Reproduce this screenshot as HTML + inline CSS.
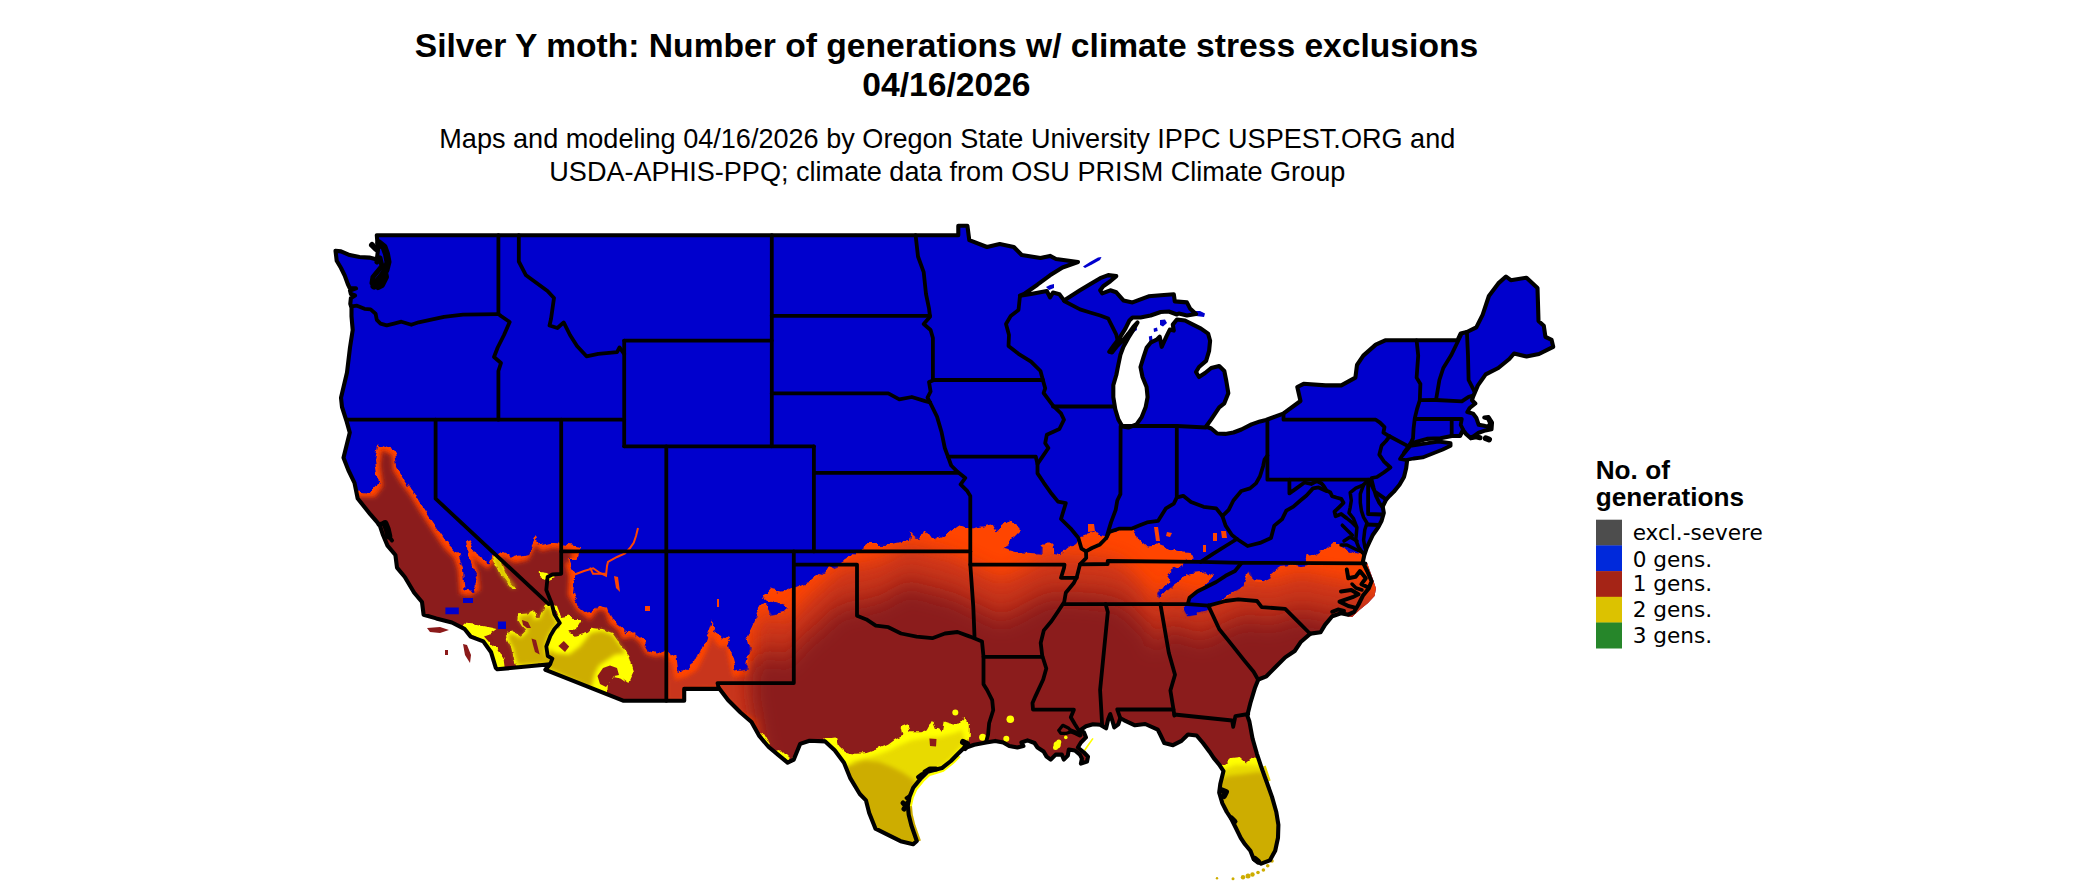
<!DOCTYPE html>
<html><head><meta charset="utf-8"><title>Silver Y moth</title>
<style>
html,body{margin:0;padding:0;background:#fff;}
body{width:2100px;height:892px;position:relative;overflow:hidden;font-family:"Liberation Sans",sans-serif;color:#000;}
.t{position:absolute;white-space:nowrap;line-height:1;}
.title{font-weight:bold;font-size:33.61px;left:0;width:1892.9px;text-align:center;}
.sub{font-size:27.09px;left:0;width:1894.6px;text-align:center;}
.lt{font-weight:bold;font-size:26.2px;left:1595.7px;}
.ll{font-family:"DejaVu Sans",sans-serif;font-size:21.6px;left:1632.7px;}
</style></head><body>
<svg width="2100" height="892" viewBox="0 0 2100 892" style="position:absolute;left:0;top:0">
<defs>
<clipPath id="us"><path d="M335.5 250.8 L341.0 251.4 L349.7 255.1 L359.5 257.0 L369.4 257.6 L376.8 259.5 L378.0 250.0 L376.8 235.2 L958.3 235.2 L958.3 225.7 L967.4 225.7 L969.3 240.2 L987.0 247.0 L999.7 244.0 L1013.8 247.0 L1021.7 255.0 L1040.5 258.0 L1050.0 255.9 L1056.0 259.0 L1078.0 262.0 L1062.5 267.5 L1050.0 275.3 L1037.4 284.7 L1024.8 293.5 L1020.0 295.7 L1031.0 294.0 L1046.8 291.0 L1050.0 297.3 L1053.0 292.6 L1059.4 294.2 L1064.0 300.4 L1080.0 290.3 L1090.0 284.2 L1100.2 278.2 L1108.2 275.1 L1116.3 276.1 L1110.3 281.2 L1103.2 286.2 L1100.2 290.3 L1102.2 293.3 L1110.3 290.3 L1116.3 292.3 L1123.4 300.4 L1132.5 302.4 L1140.5 299.3 L1148.6 296.3 L1160.7 295.3 L1173.8 294.3 L1174.8 301.4 L1186.9 302.4 L1190.0 308.4 L1196.0 314.0 L1187.0 315.5 L1178.9 313.5 L1176.9 314.5 L1168.8 311.5 L1160.7 312.0 L1150.6 315.5 L1140.5 317.5 L1132.5 317.5 L1129.4 320.5 L1125.4 328.6 L1120.4 336.7 L1114.3 344.7 L1109.3 351.8 L1112.0 352.5 L1117.3 345.8 L1123.4 339.7 L1128.4 333.6 L1133.5 326.6 L1137.5 322.5 L1133.5 329.6 L1128.4 337.7 L1123.4 346.8 L1120.4 354.8 L1118.3 364.9 L1116.3 375.0 L1113.3 385.1 L1113.3 397.2 L1115.3 409.3 L1118.3 419.4 L1122.4 426.5 L1128.4 427.5 L1136.5 424.4 L1141.5 417.4 L1145.6 407.3 L1147.6 397.2 L1146.6 387.1 L1142.5 377.0 L1140.5 367.0 L1143.6 356.9 L1146.6 347.8 L1150.6 342.7 L1156.7 339.7 L1159.7 336.7 L1161.7 346.8 L1166.8 335.7 L1169.8 329.6 L1173.8 330.6 L1172.8 324.6 L1176.9 319.5 L1185.0 320.5 L1193.0 324.6 L1201.0 328.6 L1208.1 333.6 L1210.1 340.7 L1209.1 350.8 L1206.1 360.9 L1199.0 367.0 L1196.0 372.0 L1199.0 377.0 L1205.1 373.0 L1211.2 368.0 L1219.2 366.0 L1224.3 371.0 L1226.3 381.0 L1228.3 393.2 L1224.3 403.3 L1219.2 407.3 L1215.2 413.3 L1211.2 419.4 L1206.1 426.5 L1211.2 428.5 L1217.2 433.5 L1225.3 433.9 L1233.4 432.5 L1241.4 429.5 L1251.5 424.4 L1260.0 421.4 L1266.0 420.0 L1283.2 413.7 L1300.5 401.0 L1297.3 387.0 L1303.6 383.8 L1325.6 385.4 L1341.3 385.4 L1355.4 377.6 L1357.0 365.0 L1363.3 355.6 L1375.8 344.6 L1385.2 340.3 L1457.5 340.3 L1460.6 333.6 L1466.9 332.0 L1476.3 327.3 L1482.6 314.8 L1488.9 296.0 L1498.3 283.4 L1506.0 276.5 L1510.8 280.2 L1526.5 277.7 L1537.5 288.0 L1538.5 321.0 L1543.8 325.8 L1545.4 336.8 L1551.6 339.9 L1553.2 346.8 L1539.0 354.0 L1526.5 356.5 L1514.0 353.5 L1509.3 359.0 L1498.3 368.0 L1485.7 374.4 L1477.9 385.4 L1473.2 396.4 L1472.0 400.2 L1475.3 403.5 L1469.7 408.0 L1467.4 412.0 L1473.0 413.6 L1476.4 418.1 L1478.7 424.8 L1485.4 426.0 L1489.5 426.5 L1490.0 422.6 L1488.0 418.5 L1484.3 417.6 L1488.5 417.0 L1492.0 422.6 L1491.5 429.3 L1485.4 430.4 L1478.7 432.7 L1474.2 436.0 L1470.8 438.3 L1466.0 434.0 L1463.0 430.0 L1460.0 436.0 L1451.7 436.0 L1440.5 438.3 L1427.0 438.9 L1417.0 441.7 L1410.3 443.9 L1404.0 453.0 L1404.0 455.0 L1407.4 457.9 L1406.2 468.0 L1404.0 477.0 L1399.5 484.8 L1393.9 491.6 L1389.4 496.0 L1386.0 499.8 L1382.7 506.5 L1383.8 512.9 L1381.6 520.7 L1378.2 527.4 L1372.6 535.3 L1369.5 542.0 L1366.5 548.5 L1364.3 555.0 L1362.8 562.2 L1367.2 571.0 L1371.6 581.2 L1368.7 588.5 L1362.8 595.8 L1358.5 604.5 L1354.1 611.8 L1348.3 614.7 L1341.0 613.2 L1332.2 616.2 L1325.0 624.9 L1320.6 632.2 L1310.4 633.6 L1301.0 641.7 L1294.7 651.0 L1285.2 657.4 L1275.8 666.8 L1266.4 676.3 L1258.3 679.5 L1255.1 687.4 L1250.4 703.0 L1247.3 715.6 L1249.4 721.5 L1252.6 738.8 L1256.9 753.8 L1261.2 766.8 L1266.6 781.8 L1272.0 796.9 L1276.3 812.0 L1278.4 824.9 L1278.0 837.8 L1275.2 850.7 L1269.8 860.4 L1261.2 863.7 L1253.7 859.3 L1250.4 850.7 L1245.0 844.3 L1240.7 837.8 L1235.4 827.0 L1231.0 818.4 L1226.8 812.0 L1222.4 803.4 L1219.2 792.6 L1220.3 784.0 L1223.5 771.1 L1219.2 764.6 L1213.8 758.1 L1209.5 751.7 L1203.0 743.0 L1196.6 735.5 L1188.0 734.5 L1181.5 740.9 L1173.0 745.2 L1164.3 743.0 L1160.0 734.0 L1157.8 729.7 L1145.2 724.0 L1135.0 725.3 L1124.3 720.3 L1120.3 718.2 L1118.3 724.3 L1114.2 727.3 L1112.2 720.3 L1110.2 714.2 L1108.2 719.3 L1106.1 728.3 L1100.1 724.8 L1093.0 724.3 L1086.0 726.3 L1079.9 730.4 L1084.0 732.4 L1086.0 737.4 L1080.9 742.5 L1077.9 747.5 L1084.0 752.5 L1088.0 756.6 L1087.0 761.6 L1080.9 763.6 L1081.9 758.6 L1079.9 754.6 L1074.9 750.5 L1068.8 749.5 L1067.8 755.6 L1063.8 759.6 L1061.8 754.6 L1055.7 754.6 L1050.7 759.6 L1046.6 756.6 L1043.6 751.5 L1037.5 747.5 L1034.5 743.0 L1027.5 740.4 L1021.4 742.5 L1023.4 746.0 L1017.4 747.5 L1009.3 746.0 L1003.2 742.5 L995.2 740.9 L986.1 742.5 L974.2 744.8 L963.4 748.5 L958.0 753.8 L950.9 761.0 L941.9 768.1 L927.6 771.7 L920.4 778.9 L913.2 787.8 L909.6 796.8 L907.8 805.8 L908.7 814.7 L911.4 825.5 L916.8 841.0 L913.2 844.3 L900.6 841.2 L888.0 834.9 L875.5 828.7 L869.2 813.0 L866.0 800.4 L859.8 794.0 L850.4 778.4 L844.0 762.7 L834.7 750.2 L825.2 741.4 L809.5 740.7 L800.1 743.9 L793.8 759.6 L787.6 762.7 L778.2 754.9 L768.7 747.0 L759.3 736.0 L751.5 722.0 L740.5 712.5 L728.0 700.0 L718.5 687.4 L719.5 688.9 L684.2 688.9 L684.2 700.8 L623.7 700.8 L545.5 669.8 L550.0 664.2 L497.4 669.3 L495.8 668.0 L491.1 652.3 L483.3 641.4 L470.7 636.6 L464.4 628.8 L451.9 622.5 L436.2 618.4 L423.6 614.7 L422.0 602.0 L414.2 592.7 L404.8 577.0 L397.0 567.6 L395.4 555.0 L387.5 545.6 L383.0 535.0 L379.7 525.2 L370.2 514.2 L357.7 498.5 L354.5 482.8 L348.3 470.0 L343.5 457.7 L349.8 432.6 L346.7 421.6 L342.0 407.0 L341.0 397.7 L347.0 372.6 L350.0 347.5 L352.7 330.0 L351.5 316.2 L351.5 307.5 L350.3 303.8 L350.9 298.0 L355.0 295.5 L350.9 294.0 L350.0 290.5 L356.0 288.4 L349.7 288.0 L347.8 284.0 L344.7 275.5 L341.0 268.0 L336.7 260.7 Z"/><path d="M1402.0 456.0 L1410.3 445.8 L1424.8 443.6 L1438.3 441.5 L1450.6 443.2 L1450.6 445.8 L1442.8 449.5 L1432.7 453.4 L1422.6 457.4 L1413.6 458.5 L1405.8 460.0 L1400.0 459.0 Z"/><path d="M1362.8 562.2 L1367.0 562.5 L1372.5 578.0 L1376.0 588.5 L1374.5 596.0 L1368.0 603.0 L1360.0 609.5 L1352.0 617.0 L1347.0 616.0 L1354.1 611.8 L1358.5 604.5 L1362.8 595.8 L1368.7 588.5 L1371.6 581.2 L1367.2 571.0 Z"/></clipPath>
<clipPath id="or"><path d="M340.0 490.6 L357.7 490.6 L370.2 492.2 L378.0 482.8 L375.0 460.8 L378.0 443.5 L386.0 446.7 L395.4 451.4 L397.0 467.0 L404.8 479.7 L414.2 492.2 L423.6 508.0 L436.2 526.8 L448.7 545.6 L458.2 555.0 L462.9 567.6 L464.4 589.5 L473.8 591.0 L477.0 583.3 L473.8 570.7 L467.6 551.9 L466.0 539.3 L470.7 542.4 L480.0 558.0 L489.5 564.4 L492.7 555.0 L502.0 551.9 L514.7 558.0 L527.2 555.0 L536.6 536.0 L539.8 545.6 L552.3 542.4 L560.0 544.0 L571.2 545.6 L582.2 547.0 L577.5 558.0 L568.0 558.0 L574.0 574.7 L574.0 579.0 L572.0 593.9 L580.5 606.7 L591.0 615.2 L597.5 604.5 L608.0 606.7 L612.4 619.4 L621.0 625.8 L625.2 634.3 L633.7 632.2 L642.2 638.6 L648.6 649.3 L657.0 652.4 L665.6 649.3 L670.0 657.8 L676.3 655.6 L678.4 672.7 L684.8 670.5 L693.3 664.2 L699.7 651.4 L706.0 636.5 L711.4 621.6 L716.7 634.3 L722.0 640.7 L727.4 636.5 L731.7 653.5 L736.0 670.5 L746.6 668.4 L749.8 649.3 L747.6 636.5 L753.0 625.8 L757.2 615.2 L759.3 606.7 L765.7 604.5 L772.0 615.2 L782.8 613.0 L789.2 606.7 L778.5 604.5 L765.7 600.3 L762.5 593.9 L770.0 589.6 L780.6 591.8 L791.3 587.5 L802.0 583.2 L813.0 580.0 L825.6 570.7 L838.2 566.0 L850.7 558.0 L857.0 551.9 L866.4 544.0 L888.4 544.0 L908.8 540.9 L910.4 531.5 L919.8 539.3 L924.5 530.0 L932.3 540.9 L945.0 536.2 L960.6 525.2 L970.0 528.3 L992.0 523.6 L996.7 531.5 L1010.8 520.5 L1021.8 528.3 L1010.8 539.3 L1004.6 548.7 L1017.0 551.9 L1036.0 553.4 L1040.6 554.0 L1040.6 544.5 L1052.4 544.5 L1053.4 554.0 L1059.8 555.2 L1068.3 548.8 L1075.8 543.5 L1081.0 536.0 L1089.6 532.8 L1104.5 536.0 L1115.2 531.8 L1123.7 527.5 L1134.3 531.8 L1139.7 540.3 L1146.0 545.6 L1157.8 544.5 L1166.3 547.7 L1179.0 551.0 L1191.8 552.0 L1192.9 557.3 L1183.3 561.6 L1182.3 564.8 L1170.5 571.2 L1166.3 582.9 L1157.8 593.5 L1160.0 597.8 L1168.4 589.3 L1179.0 580.7 L1189.7 574.3 L1204.6 572.2 L1213.1 576.5 L1206.7 582.9 L1196.1 591.4 L1187.6 597.8 L1186.5 603.0 L1183.3 608.4 L1187.6 617.0 L1196.1 612.7 L1206.7 610.5 L1215.3 604.0 L1226.0 597.8 L1232.3 592.4 L1243.0 587.0 L1247.2 576.5 L1250.0 571.2 L1254.0 581.2 L1262.1 582.3 L1269.2 579.2 L1272.2 571.2 L1280.3 566.1 L1290.4 565.1 L1300.4 567.1 L1308.5 566.1 L1304.5 561.1 L1305.5 556.0 L1312.5 555.0 L1318.6 551.0 L1326.7 548.0 L1332.7 542.9 L1338.8 542.9 L1341.8 545.9 L1346.9 549.0 L1354.9 553.0 L1363.0 555.0 L1372.0 556.0 L1420.0 556.0 L1420.0 900.0 L300.0 900.0 L300.0 490.6 Z"/></clipPath>
<filter id="b12" x="-10%" y="-10%" width="120%" height="120%"><feGaussianBlur stdDeviation="9"/></filter>
<filter id="b2" x="-10%" y="-10%" width="120%" height="120%"><feGaussianBlur stdDeviation="2"/></filter>
<filter id="b5" x="-10%" y="-10%" width="120%" height="120%"><feGaussianBlur stdDeviation="2.2"/></filter>
<filter id="rag" x="-2%" y="-2%" width="104%" height="104%"><feTurbulence type="fractalNoise" baseFrequency="0.09" numOctaves="3" seed="7" result="n"/><feDisplacementMap in="SourceGraphic" in2="n" scale="9" xChannelSelector="R" yChannelSelector="G"/></filter>
<filter id="rag2" x="-2%" y="-2%" width="104%" height="104%"><feTurbulence type="fractalNoise" baseFrequency="0.12" numOctaves="2" seed="3" result="n"/><feDisplacementMap in="SourceGraphic" in2="n" scale="6" xChannelSelector="R" yChannelSelector="G"/></filter>
</defs>
<g clip-path="url(#us)">
<rect x="300" y="200" width="1300" height="692" fill="#0000CD"/>
<path d="M340.0 490.6 L357.7 490.6 L370.2 492.2 L378.0 482.8 L375.0 460.8 L378.0 443.5 L386.0 446.7 L395.4 451.4 L397.0 467.0 L404.8 479.7 L414.2 492.2 L423.6 508.0 L436.2 526.8 L448.7 545.6 L458.2 555.0 L462.9 567.6 L464.4 589.5 L473.8 591.0 L477.0 583.3 L473.8 570.7 L467.6 551.9 L466.0 539.3 L470.7 542.4 L480.0 558.0 L489.5 564.4 L492.7 555.0 L502.0 551.9 L514.7 558.0 L527.2 555.0 L536.6 536.0 L539.8 545.6 L552.3 542.4 L560.0 544.0 L571.2 545.6 L582.2 547.0 L577.5 558.0 L568.0 558.0 L574.0 574.7 L574.0 579.0 L572.0 593.9 L580.5 606.7 L591.0 615.2 L597.5 604.5 L608.0 606.7 L612.4 619.4 L621.0 625.8 L625.2 634.3 L633.7 632.2 L642.2 638.6 L648.6 649.3 L657.0 652.4 L665.6 649.3 L670.0 657.8 L676.3 655.6 L678.4 672.7 L684.8 670.5 L693.3 664.2 L699.7 651.4 L706.0 636.5 L711.4 621.6 L716.7 634.3 L722.0 640.7 L727.4 636.5 L731.7 653.5 L736.0 670.5 L746.6 668.4 L749.8 649.3 L747.6 636.5 L753.0 625.8 L757.2 615.2 L759.3 606.7 L765.7 604.5 L772.0 615.2 L782.8 613.0 L789.2 606.7 L778.5 604.5 L765.7 600.3 L762.5 593.9 L770.0 589.6 L780.6 591.8 L791.3 587.5 L802.0 583.2 L813.0 580.0 L825.6 570.7 L838.2 566.0 L850.7 558.0 L857.0 551.9 L866.4 544.0 L888.4 544.0 L908.8 540.9 L910.4 531.5 L919.8 539.3 L924.5 530.0 L932.3 540.9 L945.0 536.2 L960.6 525.2 L970.0 528.3 L992.0 523.6 L996.7 531.5 L1010.8 520.5 L1021.8 528.3 L1010.8 539.3 L1004.6 548.7 L1017.0 551.9 L1036.0 553.4 L1040.6 554.0 L1040.6 544.5 L1052.4 544.5 L1053.4 554.0 L1059.8 555.2 L1068.3 548.8 L1075.8 543.5 L1081.0 536.0 L1089.6 532.8 L1104.5 536.0 L1115.2 531.8 L1123.7 527.5 L1134.3 531.8 L1139.7 540.3 L1146.0 545.6 L1157.8 544.5 L1166.3 547.7 L1179.0 551.0 L1191.8 552.0 L1192.9 557.3 L1183.3 561.6 L1182.3 564.8 L1170.5 571.2 L1166.3 582.9 L1157.8 593.5 L1160.0 597.8 L1168.4 589.3 L1179.0 580.7 L1189.7 574.3 L1204.6 572.2 L1213.1 576.5 L1206.7 582.9 L1196.1 591.4 L1187.6 597.8 L1186.5 603.0 L1183.3 608.4 L1187.6 617.0 L1196.1 612.7 L1206.7 610.5 L1215.3 604.0 L1226.0 597.8 L1232.3 592.4 L1243.0 587.0 L1247.2 576.5 L1250.0 571.2 L1254.0 581.2 L1262.1 582.3 L1269.2 579.2 L1272.2 571.2 L1280.3 566.1 L1290.4 565.1 L1300.4 567.1 L1308.5 566.1 L1304.5 561.1 L1305.5 556.0 L1312.5 555.0 L1318.6 551.0 L1326.7 548.0 L1332.7 542.9 L1338.8 542.9 L1341.8 545.9 L1346.9 549.0 L1354.9 553.0 L1363.0 555.0 L1372.0 556.0 L1420.0 556.0 L1420.0 900.0 L300.0 900.0 L300.0 490.6 Z" fill="#FF4500" filter="url(#rag)"/>
<path d="M574.0 574.7 L584.0 571.0 L593.2 568.3 L600.0 573.0 L606.0 575.8 L607.0 566.0 L608.0 562.0 L617.0 557.0 L625.0 553.4 L630.0 548.0 L633.7 542.8 L636.0 536.0 L638.0 528.0" fill="none" stroke="#FF4500" stroke-width="2"/>
<path d="M590.0 567.6 L593.0 573.8 L605.7 573.8" fill="none" stroke="#FF4500" stroke-width="2"/>
<path d="M1088.0 524.0 L1094.0 524.0 L1095.0 531.0 L1088.0 532.0 Z" fill="#FF4500"/>
<path d="M1154.0 527.0 L1158.0 527.0 L1160.0 541.0 L1156.0 541.0 Z" fill="#FF4500"/>
<path d="M1167.0 532.0 L1172.0 533.0 L1170.0 537.0 L1166.0 536.0 Z" fill="#FF4500"/>
<path d="M1213.0 533.0 L1217.0 533.0 L1217.0 541.0 L1213.0 541.0 Z" fill="#FF4500"/>
<path d="M1221.0 531.0 L1226.0 531.0 L1227.0 538.0 L1222.0 538.0 Z" fill="#FF4500"/>
<path d="M1203.0 545.0 L1206.0 545.0 L1206.0 552.0 L1203.0 552.0 Z" fill="#FF4500"/>
<path d="M614.0 576.0 L618.0 577.0 L620.0 592.0 L616.0 588.0 Z" fill="#FF4500"/>
<path d="M645.0 606.0 L650.0 606.0 L650.0 611.0 L645.0 611.0 Z" fill="#FF4500"/>
<path d="M760.0 640.0 L763.0 640.0 L763.0 646.0 L760.0 646.0 Z" fill="#FF4500"/>
<path d="M717.0 599.0 L719.0 599.0 L719.0 607.0 L717.0 607.0 Z" fill="#FF4500"/>
<g clip-path="url(#or)">
<path d="M362.0 497.0 L375.0 497.0 L383.0 486.0 L380.0 465.0 L382.0 450.0 L392.0 455.0 L393.0 470.0 L401.0 483.0 L410.0 495.0 L419.0 510.0 L432.0 530.0 L444.0 548.0 L454.0 558.0 L458.0 570.0 L460.0 594.0 L470.0 596.0 L480.0 590.0 L478.0 572.0 L472.0 556.0 L478.0 562.0 L488.0 569.0 L495.0 560.0 L503.0 557.0 L515.0 563.0 L528.0 560.0 L536.0 545.0 L541.0 551.0 L553.0 548.0 L562.0 549.0 L572.0 551.0 L570.0 562.0 L565.0 563.0 L569.0 576.0 L568.0 595.0 L577.0 610.0 L590.0 620.0 L598.0 610.0 L605.0 611.0 L609.0 623.0 L618.0 630.0 L622.0 639.0 L633.0 637.0 L640.0 643.0 L646.0 654.0 L656.0 657.0 L664.0 655.0 L668.0 662.0 L668.0 900.0 L300.0 900.0 L300.0 497.0 Z" fill="#8B1A1A" filter="url(#b2)"/>
<path d="M667.0 661.0 L672.0 663.0 L675.0 680.0 L686.0 677.0 L697.0 670.0 L704.0 656.0 L709.0 645.0 L711.5 634.0 L715.0 642.0 L721.0 648.0 L726.0 645.0 L729.0 659.0 L733.0 677.0 L749.0 675.0 L753.0 662.0 L760.0 655.0 L760.0 720.0 L740.0 712.0 L728.0 700.0 L718.5 687.4 L684.0 689.0 L684.0 701.0 L667.0 701.0 Z" fill="#C8361A" filter="url(#b5)"/>
<path d="M778.0 900.0 L770.0 790.0 L758.0 730.0 L752.0 695.0 L753.0 674.0 L757.0 662.0 L774.0 657.0 L785.0 666.0 L795.5 655.0 L803.6 645.0 L825.6 626.0 L838.2 613.0 L857.0 609.0 L875.8 606.0 L894.7 597.0 L907.2 588.0 L926.0 594.0 L951.2 600.0 L970.0 609.0 L1001.4 624.0 L1026.5 612.0 L1045.0 601.0 L1068.0 600.0 L1094.0 602.0 L1111.0 604.0 L1125.8 610.0 L1136.5 622.0 L1149.3 634.0 L1153.5 650.0 L1162.0 642.0 L1166.3 631.0 L1179.0 635.0 L1191.8 639.0 L1204.6 643.0 L1215.3 635.0 L1226.0 631.0 L1234.4 627.0 L1243.0 623.0 L1255.7 623.0 L1268.5 627.0 L1281.3 623.0 L1294.0 618.0 L1310.0 618.0 L1325.0 623.0 L1340.0 624.0 L1352.0 628.0 L1365.0 634.0 L1420.0 652.0 L1420.0 900.0 Z" fill="#C8361A" filter="url(#b12)" opacity="0.9" transform="translate(0,-46)"/>
<path d="M778.0 900.0 L770.0 790.0 L758.0 730.0 L752.0 695.0 L753.0 674.0 L757.0 662.0 L774.0 657.0 L785.0 666.0 L795.5 655.0 L803.6 645.0 L825.6 626.0 L838.2 613.0 L857.0 609.0 L875.8 606.0 L894.7 597.0 L907.2 588.0 L926.0 594.0 L951.2 600.0 L970.0 609.0 L1001.4 624.0 L1026.5 612.0 L1045.0 601.0 L1068.0 600.0 L1094.0 602.0 L1111.0 604.0 L1125.8 610.0 L1136.5 622.0 L1149.3 634.0 L1153.5 650.0 L1162.0 642.0 L1166.3 631.0 L1179.0 635.0 L1191.8 639.0 L1204.6 643.0 L1215.3 635.0 L1226.0 631.0 L1234.4 627.0 L1243.0 623.0 L1255.7 623.0 L1268.5 627.0 L1281.3 623.0 L1294.0 618.0 L1310.0 618.0 L1325.0 623.0 L1340.0 624.0 L1352.0 628.0 L1365.0 634.0 L1420.0 652.0 L1420.0 900.0 Z" fill="#8B1A1A" filter="url(#b12)" opacity="0.45" transform="translate(0,-18)"/>
<path d="M778.0 900.0 L770.0 790.0 L758.0 730.0 L752.0 695.0 L753.0 674.0 L757.0 662.0 L774.0 657.0 L785.0 666.0 L795.5 655.0 L803.6 645.0 L825.6 626.0 L838.2 613.0 L857.0 609.0 L875.8 606.0 L894.7 597.0 L907.2 588.0 L926.0 594.0 L951.2 600.0 L970.0 609.0 L1001.4 624.0 L1026.5 612.0 L1045.0 601.0 L1068.0 600.0 L1094.0 602.0 L1111.0 604.0 L1125.8 610.0 L1136.5 622.0 L1149.3 634.0 L1153.5 650.0 L1162.0 642.0 L1166.3 631.0 L1179.0 635.0 L1191.8 639.0 L1204.6 643.0 L1215.3 635.0 L1226.0 631.0 L1234.4 627.0 L1243.0 623.0 L1255.7 623.0 L1268.5 627.0 L1281.3 623.0 L1294.0 618.0 L1310.0 618.0 L1325.0 623.0 L1340.0 624.0 L1352.0 628.0 L1365.0 634.0 L1420.0 652.0 L1420.0 900.0 Z" fill="#8B1A1A" filter="url(#b12)"/>
</g>
<path d="M1187.0 611.0 L1196.0 609.0 L1197.0 615.0 L1189.0 616.0 Z" fill="#0000CD"/>
<path d="M445.4 607.5 L458.8 607.5 L458.8 614.2 L445.4 614.2 Z" fill="#0000CD"/>
<path d="M497.9 621.6 L506.0 621.6 L506.0 629.0 L497.9 629.0 Z" fill="#0000CD"/>
<path d="M463.0 598.0 L473.0 598.0 L473.0 603.0 L463.0 603.0 Z" fill="#0000CD"/>
<g filter="url(#rag2)">
<path d="M518.0 614.2 L527.5 613.5 L534.2 610.2 L536.9 612.9 L534.2 618.3 L539.6 616.9 L542.3 610.2 L545.0 604.8 L551.7 604.0 L554.4 614.2 L559.8 623.0 L554.4 629.0 L550.4 635.8 L546.3 646.5 L547.7 656.0 L552.4 658.6 L550.4 663.4 L546.3 664.5 L516.7 666.5 L513.4 657.3 L511.3 647.9 L507.3 641.1 L506.0 633.0 L512.7 631.7 L520.8 635.8 L526.1 630.4 L520.8 625.0 L517.4 619.6 Z" fill="#FFFF00"/>
<path d="M464.2 623.6 L477.7 625.0 L491.1 627.7 L496.5 629.0 L491.1 633.0 L485.8 635.8 L491.1 643.8 L497.9 649.2 L503.3 657.3 L504.6 667.0 L496.5 669.5 L492.5 657.3 L488.5 650.6 L481.7 643.2 L475.0 637.0 L469.0 635.8 L462.9 629.0 Z" fill="#FFFF00"/>
<path d="M492.7 556.6 L499.0 558.0 L505.2 573.8 L516.2 588.0 L511.5 588.0 L500.5 573.8 Z" fill="#FFFF00"/>
<path d="M550.4 635.8 L554.4 629.0 L559.8 623.0 L556.0 612.0 L553.0 604.0 L557.0 606.0 L561.1 616.9 L569.2 615.6 L574.6 621.0 L581.3 621.0 L577.3 627.7 L569.2 631.7 L574.6 635.8 L588.0 631.7 L592.1 627.7 L601.5 629.0 L612.3 633.0 L619.0 642.5 L625.7 650.6 L629.8 657.3 L633.8 670.8 L628.4 682.9 L620.3 677.5 L613.6 676.1 L606.9 684.2 L606.2 694.0 L545.0 669.4 L550.4 663.4 L552.4 658.6 L547.7 656.0 L546.3 646.5 Z" fill="#FFFF00"/>
<path d="M539.8 571.0 L547.0 572.0 L554.0 578.0 L548.0 581.0 L540.0 577.0 Z" fill="#FFFF00"/>
<path d="M823.0 738.5 L829.0 738.5 L836.1 737.6 L837.9 744.8 L845.1 752.0 L855.9 753.8 L866.6 752.9 L879.2 748.4 L888.1 744.8 L895.3 739.4 L902.5 735.9 L900.7 726.9 L907.8 724.2 L909.6 732.3 L920.4 732.3 L927.6 729.6 L932.1 721.5 L934.7 728.7 L941.9 730.5 L943.7 721.5 L949.1 723.3 L956.3 725.1 L963.4 717.0 L968.8 723.3 L968.8 735.9 L967.0 744.0 L975.0 760.0 L930.0 860.0 L860.0 830.0 L840.0 770.0 Z" fill="#FFFF00"/>
<path d="M1215.0 766.0 L1224.6 764.6 L1231.0 758.1 L1239.7 757.1 L1246.1 762.4 L1252.6 757.1 L1262.0 759.6 L1290.0 820.0 L1285.0 875.0 L1240.0 870.0 L1210.0 800.0 Z" fill="#FFFF00"/>
<path d="M760.0 734.0 L763.0 733.0 L770.0 745.0 L767.0 747.0 Z" fill="#FFFF00"/>
<path d="M775.0 750.0 L779.0 749.0 L790.0 760.0 L794.0 756.0 L797.0 758.0 L790.0 765.0 Z" fill="#FFFF00"/>
</g>
<circle cx="955.3" cy="712.5" r="3" fill="#FFFF00"/>
<circle cx="1010.3" cy="719.3" r="3.8" fill="#FFFF00"/>
<circle cx="1006.3" cy="738.8" r="3" fill="#FFFF00"/>
<circle cx="982.6" cy="737.2" r="3.5" fill="#FFFF00"/>
<circle cx="1057.2" cy="744.8" r="3.6" fill="#FFFF00"/>
<circle cx="1055.5" cy="747.5" r="2.5" fill="#FFFF00"/>
<circle cx="1058.8" cy="742.0" r="2.5" fill="#FFFF00"/>
<circle cx="1065.8" cy="737.4" r="1.8" fill="#FFFF00"/>
<circle cx="1052.0" cy="759.5" r="2.2" fill="#FFFF00"/>
<circle cx="1058.0" cy="758.5" r="2.2" fill="#FFFF00"/>
<g filter="url(#b5)" opacity="0.45">
<path d="M850.0 762.0 L866.0 758.0 L880.0 754.0 L890.0 750.0 L900.0 745.0 L912.0 740.0 L925.0 738.0 L940.0 737.0 L955.0 733.0 L962.0 730.0 L965.0 742.0 L950.0 760.0 L930.0 775.0 L915.0 790.0 L900.0 780.0 L870.0 775.0 Z" fill="#CDAD00"/>
<path d="M1222.0 770.0 L1235.0 765.0 L1250.0 765.0 L1262.0 766.0 L1270.0 785.0 L1225.0 790.0 Z" fill="#CDAD00"/>
</g>
<g filter="url(#b5)">
<path d="M846.0 766.0 L864.8 760.5 L879.2 762.0 L891.7 767.0 L902.5 772.5 L913.2 779.5 L917.0 786.0 L940.0 772.0 L935.0 790.0 L930.0 860.0 L860.0 830.0 L842.0 772.0 Z" fill="#CDAD00"/>
<path d="M1214.0 780.0 L1228.0 776.0 L1245.0 774.0 L1258.0 772.0 L1270.0 774.0 L1290.0 820.0 L1285.0 875.0 L1240.0 870.0 L1210.0 812.0 Z" fill="#CDAD00"/>
<path d="M546.5 668.0 L549.0 649.2 L555.7 653.3 L569.2 654.6 L580.0 646.5 L585.4 639.8 L590.7 633.0 L601.5 630.8 L612.3 634.4 L619.0 643.8 L625.7 653.3 L615.0 654.6 L606.9 660.0 L598.8 665.4 L594.8 673.5 L592.1 684.2 L590.7 689.0 Z" fill="#CDAD00"/>
<path d="M519.5 616.0 L527.5 615.0 L533.0 613.0 L533.0 619.5 L540.0 618.5 L543.0 611.5 L545.5 607.0 L550.0 607.0 L553.0 615.0 L557.5 623.0 L553.0 628.5 L548.5 635.5 L545.0 646.5 L546.0 656.0 L550.0 659.5 L548.5 663.5 L517.8 665.3 L515.0 657.3 L513.0 647.9 L509.0 641.1 L508.0 634.5 L512.7 633.5 L520.8 637.8 L528.5 630.4 L522.5 625.0 L519.0 619.6 Z" fill="#CDAD00"/>
<path d="M492.7 556.6 L499.0 558.0 L505.2 573.8 L516.2 588.0 L511.5 588.0 L500.5 573.8 Z" fill="#CDAD00"/>
</g>
<path d="M558.4 646.0 L563.8 641.1 L569.2 646.5 L565.0 651.9 Z" fill="#8B1A1A"/>
<path d="M597.5 676.0 L603.0 668.0 L610.0 665.4 L617.0 668.0 L619.0 675.0 L614.0 676.0 L609.0 683.0 L606.0 687.0 L600.0 684.0 Z" fill="#8B1A1A"/>
<path d="M531.5 638.5 L536.0 640.0 L539.6 654.6 L535.0 652.0 L533.0 645.0 Z" fill="#8B1A1A"/>
<path d="M522.0 620.0 L528.0 622.0 L531.0 628.0 L527.0 628.0 L523.0 625.0 Z" fill="#8B1A1A"/>
<path d="M484.0 636.5 L490.0 634.5 L494.0 641.0 L489.0 642.0 Z" fill="#8B1A1A"/>
<path d="M929.4 738.5 L936.5 739.0 L936.0 746.6 L930.0 746.0 Z" fill="#8B1A1A"/>
</g>
<path d="M427.0 628.0 L440.0 627.0 L449.0 630.0 L440.0 633.0 L430.0 632.0 Z" fill="#8B1A1A"/>
<path d="M463.0 644.0 L467.0 645.0 L471.0 655.0 L470.0 663.0 L465.0 655.0 Z" fill="#8B1A1A"/>
<path d="M445.0 650.0 L448.0 650.0 L448.0 655.0 L445.0 655.0 Z" fill="#8B1A1A"/>
<circle cx="1217.0" cy="878.3" r="1.2" fill="#CDAD00"/>
<circle cx="1233.0" cy="878.7" r="1.5" fill="#CDAD00"/>
<circle cx="1243.0" cy="877.3" r="2.2" fill="#CDAD00"/>
<circle cx="1248.0" cy="876.0" r="2.5" fill="#CDAD00"/>
<circle cx="1252.5" cy="874.5" r="2.2" fill="#CDAD00"/>
<circle cx="1258.0" cy="872.5" r="1.8" fill="#CDAD00"/>
<circle cx="1263.4" cy="870.0" r="1.8" fill="#CDAD00"/>
<circle cx="1267.7" cy="865.8" r="1.8" fill="#CDAD00"/>
<circle cx="1272.0" cy="861.0" r="1.8" fill="#CDAD00"/>
<path d="M919.5 841 L914 825.5 L911.3 814.7 L910.5 806" fill="none" stroke="#CDAD00" stroke-width="3"/>
<path d="M910.5 806 L912.3 797.5 L916 789 L923 780.5 L929.5 774.5 L943 770.5 L952.5 763 L959.5 756" fill="none" stroke="#FFFF00" stroke-width="3"/>
<path d="M1264.5 766 L1269.5 781" fill="none" stroke="#E6D200" stroke-width="2.5"/>
<path d="M1084.5 750.5 L1089 744 L1093 738.4" fill="none" stroke="#FFFF00" stroke-width="1.6"/>
<path d="M1083.0 266.5 L1090.0 262.0 L1098.0 257.5 L1101.5 257.0 L1100.0 260.0 L1092.0 264.5 L1085.0 268.0 Z" fill="#0000CD"/>
<path d="M1046.0 287.0 L1050.0 285.0 L1054.0 284.0 L1054.0 288.0 L1049.0 290.0 Z" fill="#0000CD"/>
<path d="M1193.0 311.0 L1200.0 311.0 L1205.0 313.5 L1204.0 317.0 L1196.0 316.0 Z" fill="#0000CD"/>
<path d="M1160.0 320.0 L1165.0 319.5 L1167.0 323.0 L1163.0 326.5 L1160.0 325.0 Z" fill="#0000CD"/>
<path d="M1153.6 328.5 L1157.0 327.6 L1157.7 331.0 L1154.0 332.0 Z" fill="#0000CD"/>
<path d="M1148.8 336.5 L1152.0 335.7 L1152.6 340.5 L1149.5 342.0 Z" fill="#0000CD"/>
<path d="M1132.0 328.0 L1136.5 326.5 L1137.0 330.0 L1133.0 332.5 Z" fill="#0000CD"/>
<path d="M1122.0 343.0 L1124.5 341.0 L1125.0 344.0 L1123.0 346.0 Z" fill="#0000CD"/>
<g fill="none" stroke="#000" stroke-width="3.8" stroke-linejoin="round" stroke-linecap="round">
<path d="M335.5 250.8 L341.0 251.4 L349.7 255.1 L359.5 257.0 L369.4 257.6 L376.8 259.5 L378.0 250.0 L376.8 235.2 L958.3 235.2 L958.3 225.7 L967.4 225.7 L969.3 240.2 L987.0 247.0 L999.7 244.0 L1013.8 247.0 L1021.7 255.0 L1040.5 258.0 L1050.0 255.9 L1056.0 259.0 L1078.0 262.0 L1062.5 267.5 L1050.0 275.3 L1037.4 284.7 L1024.8 293.5 L1020.0 295.7 L1031.0 294.0 L1046.8 291.0 L1050.0 297.3 L1053.0 292.6 L1059.4 294.2 L1064.0 300.4 L1080.0 290.3 L1090.0 284.2 L1100.2 278.2 L1108.2 275.1 L1116.3 276.1 L1110.3 281.2 L1103.2 286.2 L1100.2 290.3 L1102.2 293.3 L1110.3 290.3 L1116.3 292.3 L1123.4 300.4 L1132.5 302.4 L1140.5 299.3 L1148.6 296.3 L1160.7 295.3 L1173.8 294.3 L1174.8 301.4 L1186.9 302.4 L1190.0 308.4 L1196.0 314.0 L1187.0 315.5 L1178.9 313.5 L1176.9 314.5 L1168.8 311.5 L1160.7 312.0 L1150.6 315.5 L1140.5 317.5 L1132.5 317.5 L1129.4 320.5 L1125.4 328.6 L1120.4 336.7 L1114.3 344.7 L1109.3 351.8 L1112.0 352.5 L1117.3 345.8 L1123.4 339.7 L1128.4 333.6 L1133.5 326.6 L1137.5 322.5 L1133.5 329.6 L1128.4 337.7 L1123.4 346.8 L1120.4 354.8 L1118.3 364.9 L1116.3 375.0 L1113.3 385.1 L1113.3 397.2 L1115.3 409.3 L1118.3 419.4 L1122.4 426.5 L1128.4 427.5 L1136.5 424.4 L1141.5 417.4 L1145.6 407.3 L1147.6 397.2 L1146.6 387.1 L1142.5 377.0 L1140.5 367.0 L1143.6 356.9 L1146.6 347.8 L1150.6 342.7 L1156.7 339.7 L1159.7 336.7 L1161.7 346.8 L1166.8 335.7 L1169.8 329.6 L1173.8 330.6 L1172.8 324.6 L1176.9 319.5 L1185.0 320.5 L1193.0 324.6 L1201.0 328.6 L1208.1 333.6 L1210.1 340.7 L1209.1 350.8 L1206.1 360.9 L1199.0 367.0 L1196.0 372.0 L1199.0 377.0 L1205.1 373.0 L1211.2 368.0 L1219.2 366.0 L1224.3 371.0 L1226.3 381.0 L1228.3 393.2 L1224.3 403.3 L1219.2 407.3 L1215.2 413.3 L1211.2 419.4 L1206.1 426.5 L1211.2 428.5 L1217.2 433.5 L1225.3 433.9 L1233.4 432.5 L1241.4 429.5 L1251.5 424.4 L1260.0 421.4 L1266.0 420.0 L1283.2 413.7 L1300.5 401.0 L1297.3 387.0 L1303.6 383.8 L1325.6 385.4 L1341.3 385.4 L1355.4 377.6 L1357.0 365.0 L1363.3 355.6 L1375.8 344.6 L1385.2 340.3 L1457.5 340.3 L1460.6 333.6 L1466.9 332.0 L1476.3 327.3 L1482.6 314.8 L1488.9 296.0 L1498.3 283.4 L1506.0 276.5 L1510.8 280.2 L1526.5 277.7 L1537.5 288.0 L1538.5 321.0 L1543.8 325.8 L1545.4 336.8 L1551.6 339.9 L1553.2 346.8 L1539.0 354.0 L1526.5 356.5 L1514.0 353.5 L1509.3 359.0 L1498.3 368.0 L1485.7 374.4 L1477.9 385.4 L1473.2 396.4 L1472.0 400.2 L1475.3 403.5 L1469.7 408.0 L1467.4 412.0 L1473.0 413.6 L1476.4 418.1 L1478.7 424.8 L1485.4 426.0 L1489.5 426.5 L1490.0 422.6 L1488.0 418.5 L1484.3 417.6 L1488.5 417.0 L1492.0 422.6 L1491.5 429.3 L1485.4 430.4 L1478.7 432.7 L1474.2 436.0 L1470.8 438.3 L1466.0 434.0 L1463.0 430.0 L1460.0 436.0 L1451.7 436.0 L1440.5 438.3 L1427.0 438.9 L1417.0 441.7 L1410.3 443.9 L1404.0 453.0 L1404.0 455.0 L1407.4 457.9 L1406.2 468.0 L1404.0 477.0 L1399.5 484.8 L1393.9 491.6 L1389.4 496.0 L1386.0 499.8 L1382.7 506.5 L1383.8 512.9 L1381.6 520.7 L1378.2 527.4 L1372.6 535.3 L1369.5 542.0 L1366.5 548.5 L1364.3 555.0 L1362.8 562.2 L1367.2 571.0 L1371.6 581.2 L1368.7 588.5 L1362.8 595.8 L1358.5 604.5 L1354.1 611.8 L1348.3 614.7 L1341.0 613.2 L1332.2 616.2 L1325.0 624.9 L1320.6 632.2 L1310.4 633.6 L1301.0 641.7 L1294.7 651.0 L1285.2 657.4 L1275.8 666.8 L1266.4 676.3 L1258.3 679.5 L1255.1 687.4 L1250.4 703.0 L1247.3 715.6 L1249.4 721.5 L1252.6 738.8 L1256.9 753.8 L1261.2 766.8 L1266.6 781.8 L1272.0 796.9 L1276.3 812.0 L1278.4 824.9 L1278.0 837.8 L1275.2 850.7 L1269.8 860.4 L1261.2 863.7 L1253.7 859.3 L1250.4 850.7 L1245.0 844.3 L1240.7 837.8 L1235.4 827.0 L1231.0 818.4 L1226.8 812.0 L1222.4 803.4 L1219.2 792.6 L1220.3 784.0 L1223.5 771.1 L1219.2 764.6 L1213.8 758.1 L1209.5 751.7 L1203.0 743.0 L1196.6 735.5 L1188.0 734.5 L1181.5 740.9 L1173.0 745.2 L1164.3 743.0 L1160.0 734.0 L1157.8 729.7 L1145.2 724.0 L1135.0 725.3 L1124.3 720.3 L1120.3 718.2 L1118.3 724.3 L1114.2 727.3 L1112.2 720.3 L1110.2 714.2 L1108.2 719.3 L1106.1 728.3 L1100.1 724.8 L1093.0 724.3 L1086.0 726.3 L1079.9 730.4 L1084.0 732.4 L1086.0 737.4 L1080.9 742.5 L1077.9 747.5 L1084.0 752.5 L1088.0 756.6 L1087.0 761.6 L1080.9 763.6 L1081.9 758.6 L1079.9 754.6 L1074.9 750.5 L1068.8 749.5 L1067.8 755.6 L1063.8 759.6 L1061.8 754.6 L1055.7 754.6 L1050.7 759.6 L1046.6 756.6 L1043.6 751.5 L1037.5 747.5 L1034.5 743.0 L1027.5 740.4 L1021.4 742.5 L1023.4 746.0 L1017.4 747.5 L1009.3 746.0 L1003.2 742.5 L995.2 740.9 L986.1 742.5 L974.2 744.8 L963.4 748.5 L958.0 753.8 L950.9 761.0 L941.9 768.1 L927.6 771.7 L920.4 778.9 L913.2 787.8 L909.6 796.8 L907.8 805.8 L908.7 814.7 L911.4 825.5 L916.8 841.0 L913.2 844.3 L900.6 841.2 L888.0 834.9 L875.5 828.7 L869.2 813.0 L866.0 800.4 L859.8 794.0 L850.4 778.4 L844.0 762.7 L834.7 750.2 L825.2 741.4 L809.5 740.7 L800.1 743.9 L793.8 759.6 L787.6 762.7 L778.2 754.9 L768.7 747.0 L759.3 736.0 L751.5 722.0 L740.5 712.5 L728.0 700.0 L718.5 687.4 L719.5 688.9 L684.2 688.9 L684.2 700.8 L623.7 700.8 L545.5 669.8 L550.0 664.2 L497.4 669.3 L495.8 668.0 L491.1 652.3 L483.3 641.4 L470.7 636.6 L464.4 628.8 L451.9 622.5 L436.2 618.4 L423.6 614.7 L422.0 602.0 L414.2 592.7 L404.8 577.0 L397.0 567.6 L395.4 555.0 L387.5 545.6 L383.0 535.0 L379.7 525.2 L370.2 514.2 L357.7 498.5 L354.5 482.8 L348.3 470.0 L343.5 457.7 L349.8 432.6 L346.7 421.6 L342.0 407.0 L341.0 397.7 L347.0 372.6 L350.0 347.5 L352.7 330.0 L351.5 316.2 L351.5 307.5 L350.3 303.8 L350.9 298.0 L355.0 295.5 L350.9 294.0 L350.0 290.5 L356.0 288.4 L349.7 288.0 L347.8 284.0 L344.7 275.5 L341.0 268.0 L336.7 260.7 Z" stroke-width="4.1"/>
<path d="M1402.0 456.0 L1410.3 445.8 L1424.8 443.6 L1438.3 441.5 L1450.6 443.2 L1450.6 445.8 L1442.8 449.5 L1432.7 453.4 L1422.6 457.4 L1413.6 458.5 L1405.8 460.0 L1400.0 459.0 Z" fill="#0000CD"/>
<path d="M351.5 306.3 L357.0 305.7 L364.5 308.8 L370.6 309.4 L375.6 313.7 L376.8 319.9 L380.5 323.6 L386.7 325.4 L394.0 323.6 L401.4 321.7 L411.3 324.8 L418.7 322.3 L425.5 320.8 L444.0 316.8 L463.0 314.6 L497.7 314.2"/>
<path d="M498.4 235.2 L498.4 314.0 L501.0 316.0 L509.7 322.0 L504.0 335.0 L497.7 347.5 L494.0 357.0 L501.0 363.0 L498.4 371.0 L498.4 419.7"/>
<path d="M347.0 419.7 L624.2 419.7"/>
<path d="M518.8 235.2 L518.8 261.5 L526.0 275.3 L547.5 291.0 L554.0 298.0 L551.0 319.0 L549.5 325.5 L557.4 328.0 L563.7 322.4 L570.0 335.0 L577.0 346.0 L586.5 356.3 L598.3 353.8 L617.0 352.2 L619.5 347.5 L624.2 353.8"/>
<path d="M624.2 340.6 L624.2 446.3"/>
<path d="M624.2 340.6 L771.7 340.6"/>
<path d="M771.8 235.2 L771.8 446.3"/>
<path d="M624.2 446.3 L813.8 446.3"/>
<path d="M666.3 446.3 L666.3 700.8"/>
<path d="M561.2 551.4 L970.3 551.4"/>
<path d="M561.2 419.7 L561.2 573.8 L552.3 574.5 L547.6 577.0 L546.3 590.0 L551.7 603.5 L554.4 614.2 L559.8 623.0 L554.4 629.0 L550.4 635.8 L546.3 646.5 L547.7 656.0 L552.4 658.6 L550.4 663.4 L545.5 669.5"/>
<path d="M435.6 419.7 L435.6 498.7 L548.7 604.1"/>
<path d="M813.9 446.3 L813.9 551.4"/>
<path d="M813.8 472.9 L957.5 472.9"/>
<path d="M771.7 393.3 L888.3 393.3 L899.3 399.3 L911.8 397.0 L924.4 400.9 L930.0 402.4"/>
<path d="M771.7 315.8 L930.0 315.8"/>
<path d="M915.6 235.2 L918.0 256.5 L923.7 272.2 L926.0 294.0 L929.0 308.3 L930.0 316.8 L923.7 324.0 L930.6 330.0 L932.9 338.0 L932.9 380.5 L929.0 382.0 L930.6 391.5 L927.5 397.7 L930.0 402.4"/>
<path d="M930.0 402.4 L937.0 416.6 L941.6 432.3 L944.8 448.0 L948.0 456.7 L951.2 465.5 L957.5 471.8 L965.3 478.0 L960.6 484.4 L966.9 490.6 L970.3 496.0 L970.3 564.6 L973.3 607.0 L974.5 636.6"/>
<path d="M932.9 380.0 L1043.0 380.0"/>
<path d="M948.0 456.7 L1035.8 456.7 L1037.5 464.0"/>
<path d="M1020.0 295.7 L1018.5 309.9 L1010.7 316.0 L1006.0 324.0 L1009.0 335.0 L1008.5 346.0 L1018.5 353.8 L1031.0 361.6 L1040.5 371.0 L1043.0 380.5 L1045.2 388.3 L1043.6 393.0 L1053.0 405.6 L1061.0 413.4 L1064.0 419.7 L1059.4 429.0 L1046.8 434.8 L1045.2 443.2 L1048.4 448.0 L1042.0 457.4 L1037.5 464.0 L1037.5 473.4 L1043.8 482.8 L1051.6 493.8 L1058.0 501.6 L1065.8 503.2 L1061.0 519.0 L1070.5 528.3 L1078.3 537.7 L1081.5 548.7 L1086.0 551.4 L1086.2 558.0 L1080.0 564.4 L1076.8 577.0 L1073.6 583.3 L1065.8 592.7 L1064.2 602.0 L1058.0 611.5 L1051.6 621.0 L1043.8 630.4 L1040.7 643.0 L1042.2 655.5 L1046.3 668.5 L1043.2 679.5 L1035.5 696.1 L1032.5 703.1 L1033.0 709.7 L1073.9 709.7 L1070.8 717.2 L1074.9 724.3 L1078.5 730.0"/>
<path d="M1053.0 406.5 L1113.6 406.5"/>
<path d="M1064.0 301.0 L1080.0 309.4 L1090.0 312.5 L1100.2 315.5 L1108.2 318.5 L1112.3 326.6 L1116.3 334.7 L1117.3 339.0"/>
<path d="M1120.6 426.0 L1120.4 494.2 L1117.3 500.5 L1115.7 509.9 L1111.0 522.4 L1106.3 538.0"/>
<path d="M1121.5 426.0 L1176.8 426.0 L1206.1 427.5"/>
<path d="M1176.8 426.0 L1176.8 497.3"/>
<path d="M1267.4 455.5 L1264.5 459.7 L1263.1 466.2 L1260.0 476.3 L1256.0 483.4 L1250.0 488.4 L1241.3 491.0 L1233.4 500.5 L1228.7 509.9 L1222.4 516.2 L1216.2 508.3 L1203.6 506.8 L1191.0 502.0 L1183.2 495.8 L1176.9 497.3 L1173.8 503.6 L1166.0 508.3 L1158.0 520.9 L1147.0 522.4 L1139.2 525.6 L1131.4 528.7 L1118.8 528.7 L1109.4 531.9 L1106.3 538.0 L1100.0 544.4 L1092.0 548.0 L1086.0 551.4"/>
<path d="M1080.0 564.4 L1107.7 564.0 L1107.7 561.0 L1200.8 561.9 L1241.3 562.8 L1365.3 563.3"/>
<path d="M970.3 564.6 L1064.5 564.6 L1064.0 568.0 L1061.0 577.8 L1076.8 577.8"/>
<path d="M1064.2 604.1 L1187.8 604.1 L1208.3 605.6"/>
<path d="M1105.6 604.1 L1107.8 612.0 L1100.1 690.0 L1102.1 724.5"/>
<path d="M1160.4 604.1 L1168.8 652.8 L1175.0 674.8 L1170.4 690.5 L1173.5 709.5 L1174.4 715.6"/>
<path d="M1120.3 718.2 L1117.2 709.3 L1173.5 709.5"/>
<path d="M1174.4 714.5 L1232.1 720.5 L1233.2 726.9 L1235.4 716.1 L1248.3 714.0"/>
<path d="M1208.3 605.6 L1219.3 629.2 L1231.9 644.9 L1244.4 660.6 L1253.6 671.7 L1258.3 680.0"/>
<path d="M1208.3 605.6 L1225.6 601.0 L1238.2 599.4 L1257.0 601.0 L1261.7 607.2 L1285.2 608.8 L1310.4 634.0"/>
<path d="M1241.3 563.3 L1235.0 571.0 L1225.6 575.8 L1216.2 582.0 L1206.8 586.8 L1197.3 591.5 L1189.5 597.8 L1187.8 604.1"/>
<path d="M1200.8 561.9 L1213.0 553.8 L1225.6 546.0 L1236.9 539.0"/>
<path d="M1222.4 516.2 L1225.6 525.6 L1231.9 535.0 L1236.9 539.0"/>
<path d="M1236.9 539.0 L1247.6 546.0 L1260.0 542.9 L1271.0 538.0 L1274.3 525.6 L1282.0 519.3 L1286.3 510.6 L1293.4 506.6 L1300.4 500.5 L1306.5 495.5 L1313.0 488.4 L1318.6 487.4 L1326.4 491.0"/>
<path d="M1289.4 479.7 L1289.4 493.4 L1296.4 488.4 L1304.5 482.5 L1311.1 484.0 L1316.8 481.0 L1321.6 483.5 L1323.7 486.0 L1326.4 490.3 L1330.4 492.5 L1332.1 496.1 L1336.3 497.5 L1341.2 498.8 L1343.5 502.8 L1339.0 507.3 L1334.5 511.7 L1335.6 516.2 L1341.2 514.0 L1345.7 517.4"/>
<path d="M1267.4 420.5 L1267.4 479.7 L1369.0 479.7"/>
<path d="M1283.5 413.7 L1283.5 419.7 L1375.8 419.7 L1380.0 422.6 L1384.5 427.1 L1383.4 432.7 L1389.5 436.3"/>
<path d="M1389.5 436.3 L1386.0 441.0 L1381.6 445.6 L1379.3 454.6 L1383.8 461.3 L1390.5 467.5 L1383.8 472.5 L1377.0 477.0 L1371.5 478.0"/>
<path d="M1386.0 499.4 L1374.8 491.6 L1371.5 484.8 L1371.5 479.5 L1373.7 488.2 L1376.0 496.0 L1379.3 502.8 L1382.7 507.3"/>
<path d="M1389.5 436.3 L1408.0 446.1"/>
<path d="M1368.1 479.7 L1368.1 514.0 L1382.0 514.5"/>
<path d="M1416.6 340.3 L1418.2 355.6 L1416.6 377.6 L1420.4 384.0 L1419.8 400.2 L1417.0 409.1 L1414.8 418.1 L1413.6 428.2 L1413.0 438.3 L1410.3 443.9"/>
<path d="M1461.0 335.0 L1451.0 355.6 L1443.3 368.0 L1439.4 380.0 L1436.0 400.0"/>
<path d="M1466.9 332.0 L1468.0 355.6 L1468.6 380.0 L1472.0 386.7 L1474.2 391.2"/>
<path d="M1419.8 400.2 L1436.0 400.0 L1461.8 401.3 L1468.6 396.8 L1473.0 395.7"/>
<path d="M1414.8 419.0 L1461.8 419.0 L1460.7 424.8 L1463.0 429.3"/>
<path d="M1451.7 419.0 L1451.7 436.0"/>
<path d="M793.8 564.6 L857.0 564.6 L857.0 615.7 L866.4 619.4 L875.8 625.7 L888.4 627.2 L901.0 633.5 L916.6 636.6 L932.3 638.2 L944.9 633.5 L957.5 632.0 L970.0 636.6 L982.0 641.4 L983.5 656.8 L983.5 684.2 L987.1 690.0 L992.2 700.1 L993.2 710.2 L989.1 723.3 L988.1 734.4 L986.1 742.0"/>
<path d="M793.8 551.4 L793.8 683.1 L717.5 683.1 L718.5 687.4"/>
<path d="M983.5 656.8 L1042.3 656.8"/>
<path d="M1367.0 524.5 L1379.0 525.0"/>
</g>
<g fill="none" stroke="#000" stroke-linejoin="round" stroke-linecap="round">
<path d="M379.0 243.0 L384.0 247.0 L386.5 254.0 L388.0 262.0 L386.0 270.0 L381.0 277.0 L376.0 283.0 L374.0 286.0" stroke-width="7"/>
<path d="M372.0 245.0 L376.0 249.0 L379.0 246.0" stroke-width="6"/>
<path d="M384.0 268.0 L386.0 277.0 L382.0 285.0 L378.0 287.0" stroke-width="6"/>
<path d="M377.0 262.0 L380.0 258.0 L382.0 266.0 L373.0 277.0 L372.0 283.0" stroke-width="5"/>
<path d="M385.0 523.5 L387.2 529.0 L388.8 536.0" stroke-width="7"/>
<path d="M378.5 524.5 L384.0 523.0" stroke-width="4"/>
<path d="M388.5 536.0 L392.0 540.5" stroke-width="4"/>
<path d="M1221.0 790.0 L1226.0 792.0 L1224.0 796.0" stroke-width="6"/>
<path d="M1231.5 818.0 L1235.0 821.5" stroke-width="5"/>
<path d="M1255.0 859.0 L1258.0 861.5" stroke-width="6"/>
<path d="M963.0 742.0 L967.0 744.0 L965.0 748.0" stroke-width="6"/>
<path d="M925.0 772.0 L930.0 769.0 L936.0 769.0" stroke-width="5"/>
<path d="M918.0 777.0 L922.0 774.0" stroke-width="4"/>
<path d="M903.0 803.0 L906.0 806.0 L904.0 809.0" stroke-width="5"/>
<path d="M909.0 796.0 L906.0 798.0 L909.0 801.0 L906.0 803.0" stroke-width="3"/>
<path d="M1058.7 730.4 L1062.8 725.3 L1068.8 728.3 L1071.8 731.4 L1065.8 733.4 L1060.8 733.4 L1058.7 730.4" stroke-width="3.2"/>
<path d="M1071.0 731.0 L1076.0 733.0 L1080.0 735.0" stroke-width="5"/>
<path d="M1472.0 437.5 L1476.0 436.8 L1480.0 437.8" stroke-width="5"/>
<path d="M1485.8 438.3 L1489.0 439.5" stroke-width="6"/>
<path d="M1368.0 480.0 L1363.6 484.8 L1360.3 493.8 L1360.3 502.8 L1361.4 510.6 L1363.6 517.4 L1367.0 523.0 L1364.8 529.7 L1363.6 540.0 L1365.0 548.0" stroke-width="3.5"/>
<path d="M1363.6 484.8 L1355.8 488.2 L1350.2 492.7 L1351.3 500.5 L1350.2 507.3 L1349.0 512.9 L1353.5 518.5 L1356.9 527.4 L1355.8 540.0 L1358.5 547.0 L1362.0 552.0 L1364.3 555.0" stroke-width="3.5"/>
<path d="M1355.8 526.3 L1351.3 521.8 L1345.7 517.4" stroke-width="3.5"/>
<path d="M1352.4 535.3 L1347.0 530.0 L1342.3 525.2" stroke-width="3.5"/>
<path d="M1357.0 541.0 L1350.0 537.0 L1344.0 541.0" stroke-width="3.5"/>
<path d="M1362.0 552.0 L1355.0 549.0 L1347.0 545.0 L1341.0 545.0" stroke-width="3.5"/>
<path d="M1346.8 569.5 L1348.3 578.3 L1355.6 576.8 L1360.0 571.0 L1365.8 578.3 L1361.4 584.1 L1367.2 587.0" stroke-width="4"/>
<path d="M1341.0 591.4 L1351.2 590.0 L1358.5 594.3 L1352.6 597.2 L1339.5 601.6 L1348.3 606.0 L1354.1 607.4" stroke-width="4"/>
<path d="M1332.2 611.8 L1338.0 609.5 L1344.0 611.0" stroke-width="4"/>
<path d="M1352.0 584.0 L1356.0 588.0 L1362.0 590.0" stroke-width="3.5"/>
</g>
<rect x="1596" y="519.7" width="26" height="26.00" fill="#4D4D4D"/>
<rect x="1596" y="545.4" width="26" height="26.00" fill="#0029DB"/>
<rect x="1596" y="571.1" width="26" height="26.00" fill="#A52416"/>
<rect x="1596" y="596.8" width="26" height="26.00" fill="#DCC200"/>
<rect x="1596" y="622.5" width="26" height="26.00" fill="#26862A"/>
</svg>
<div class="t title" style="top:28.57px">Silver Y moth: Number of generations w/ climate stress exclusions</div>
<div class="t title" style="top:68.07px">04/16/2026</div>
<div class="t sub" style="top:125.07px">Maps and modeling 04/16/2026 by Oregon State University IPPC USPEST.ORG and</div>
<div class="t sub" style="top:158.02px">USDA-APHIS-PPQ; climate data from OSU PRISM Climate Group</div>
<div class="t lt" style="top:456.7px">No. of</div>
<div class="t lt" style="top:484.2px">generations</div>
<div class="t ll" style="top:522.3px">excl.-severe</div>
<div class="t ll" style="top:548.5px">0 gens.</div>
<div class="t ll" style="top:572.8px">1 gens.</div>
<div class="t ll" style="top:599px">2 gens.</div>
<div class="t ll" style="top:624.5px">3 gens.</div>
</body></html>
